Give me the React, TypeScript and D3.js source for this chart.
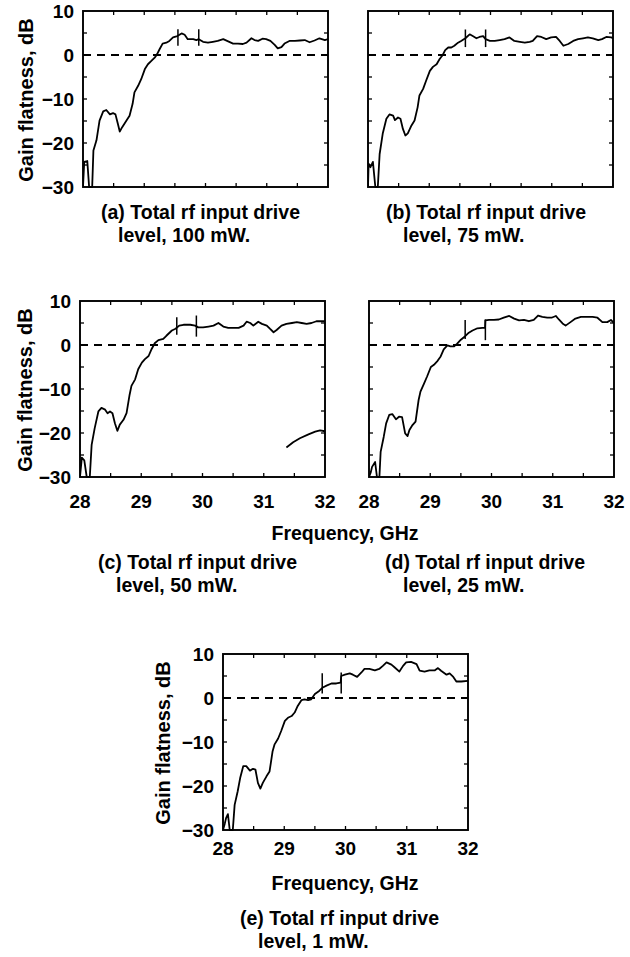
import React from 'react';
import * as d3 from 'd3';

// ---------- data ----------
const freqTicks = [28, 29, 30, 31, 32];
const gainTicks = [10, 0, -10, -20, -30];
const freqMinor = [28.5, 29, 29.5, 30, 30.5, 31, 31.5];
const gainMinor = [5, 0, -5, -10, -15, -20, -25];

const captionLine1 = [
  '(a) Total rf input drive',
  '(b) Total rf input drive',
  '(c) Total rf input drive',
  '(d) Total rf input drive',
  '(e) Total rf input drive',
];
const captionLine2 = ['level, 100 mW.', 'level, 75 mW.', 'level, 50 mW.', 'level, 25 mW.', 'level, 1 mW.'];

type P = [number, number];

const traceA: P[] = [[28.00,-30],[28.02,-24.3],[28.07,-24.1],[28.10,-30],[28.15,-30],[28.17,-21.7],[28.22,-19.4],[28.27,-14.9],[28.33,-12.8],[28.38,-12.5],[28.44,-13.5],[28.49,-13.2],[28.53,-13.5],[28.57,-15.7],[28.60,-17.4],[28.64,-16.4],[28.71,-14.9],[28.76,-13.8],[28.81,-11.1],[28.84,-8.5],[28.90,-7.0],[28.95,-5.5],[29.01,-3.2],[29.06,-2.1],[29.12,-1.3],[29.17,-0.6],[29.21,0.2],[29.25,1.3],[29.30,2.6],[29.36,2.8],[29.41,3.2],[29.47,4.0],[29.54,4.3],[29.61,4.9],[29.66,4.6],[29.71,3.6],[29.80,3.6],[29.85,3.4],[29.89,3.6],[29.96,3.0],[30.04,2.8],[30.12,3.0],[30.20,3.2],[30.29,3.6],[30.37,3.1],[30.45,2.6],[30.53,2.6],[30.61,2.5],[30.67,2.8],[30.75,3.8],[30.80,3.4],[30.86,3.2],[30.93,3.7],[30.99,3.6],[31.06,3.2],[31.13,2.3],[31.18,1.5],[31.24,1.8],[31.29,2.6],[31.37,3.2],[31.46,3.2],[31.54,3.3],[31.62,3.4],[31.70,2.9],[31.78,3.3],[31.86,3.8],[31.95,3.4],[32.00,3.6]];

const traceB: P[] = [[28.00,-30],[28.01,-24.7],[28.04,-25.5],[28.08,-24.3],[28.12,-30],[28.16,-30],[28.19,-22.5],[28.24,-17.9],[28.30,-14.5],[28.35,-13.5],[28.41,-13.8],[28.44,-14.8],[28.49,-14.2],[28.53,-14.5],[28.57,-16.8],[28.61,-18.3],[28.65,-17.8],[28.71,-16.0],[28.76,-14.9],[28.81,-11.9],[28.84,-9.2],[28.90,-7.7],[28.95,-5.8],[29.01,-3.6],[29.06,-2.7],[29.12,-2.1],[29.17,-0.9],[29.22,0.0],[29.26,1.1],[29.31,1.7],[29.36,1.7],[29.41,2.1],[29.47,2.8],[29.52,3.2],[29.59,3.8],[29.66,4.7],[29.71,4.3],[29.77,3.8],[29.82,4.1],[29.88,4.3],[29.92,3.6],[29.99,3.2],[30.07,3.2],[30.15,3.4],[30.23,3.6],[30.31,4.0],[30.39,3.2],[30.48,3.0],[30.56,2.8],[30.64,3.0],[30.69,3.2],[30.76,4.3],[30.83,4.1],[30.91,3.6],[30.99,4.0],[31.07,4.1],[31.13,3.2],[31.19,2.1],[31.27,2.5],[31.35,3.2],[31.43,3.6],[31.51,3.8],[31.59,4.0],[31.67,3.8],[31.76,3.4],[31.82,3.6],[31.89,4.1],[31.97,4.0],[32.00,3.8]];

const traceC: P[] = [[28.00,-30],[28.03,-25.6],[28.07,-26.2],[28.11,-30],[28.16,-30],[28.19,-22.7],[28.24,-18.9],[28.30,-15.1],[28.35,-14.3],[28.41,-14.7],[28.45,-15.5],[28.49,-15.1],[28.53,-15.5],[28.57,-17.8],[28.61,-19.5],[28.65,-18.1],[28.71,-17.0],[28.76,-15.5],[28.81,-11.3],[28.84,-9.3],[28.90,-7.8],[28.95,-5.5],[29.01,-4.0],[29.06,-3.2],[29.12,-2.5],[29.17,-0.9],[29.22,0.4],[29.28,1.1],[29.36,1.4],[29.41,2.1],[29.50,3.3],[29.56,3.7],[29.62,4.4],[29.69,4.6],[29.80,4.6],[29.88,4.4],[29.93,4.0],[30.01,4.0],[30.10,4.2],[30.18,4.4],[30.26,5.0],[30.34,4.2],[30.42,3.9],[30.50,3.9],[30.59,3.9],[30.67,4.4],[30.72,5.3],[30.78,5.0],[30.83,4.4],[30.91,5.3],[30.97,4.8],[31.05,4.4],[31.10,3.7],[31.16,2.9],[31.21,3.4],[31.29,4.4],[31.37,4.8],[31.46,5.0],[31.54,5.2],[31.62,5.0],[31.70,4.8],[31.78,5.0],[31.86,5.4],[32.00,5.4]];
const traceC2: P[] = [[31.37,-23.3],[31.48,-22.1],[31.59,-21.2],[31.73,-20.3],[31.84,-19.7],[31.92,-19.4],[32.00,-19.6]];

const traceD: P[] = [[28.00,-30],[28.03,-28.9],[28.05,-27.7],[28.10,-26.6],[28.13,-30],[28.17,-30],[28.19,-24.3],[28.24,-20.9],[28.28,-17.8],[28.33,-15.9],[28.38,-15.7],[28.44,-16.9],[28.49,-16.3],[28.54,-16.4],[28.59,-20.1],[28.63,-20.7],[28.66,-19.3],[28.71,-18.2],[28.76,-17.4],[28.81,-12.5],[28.84,-10.6],[28.90,-8.7],[28.95,-7.1],[29.01,-5.0],[29.06,-4.5],[29.12,-3.6],[29.17,-2.6],[29.22,-1.0],[29.28,-0.1],[29.33,-0.3],[29.39,-0.3],[29.44,0.3],[29.50,1.2],[29.57,2.0],[29.63,2.8],[29.69,3.3],[29.77,3.8],[29.85,3.9],[29.895,3.9],[29.90,5.6],[29.96,5.7],[30.04,5.7],[30.12,5.8],[30.20,6.2],[30.29,6.6],[30.37,6.0],[30.45,5.6],[30.53,5.7],[30.61,5.4],[30.69,5.7],[30.76,6.7],[30.83,6.4],[30.91,6.2],[30.98,6.2],[31.05,6.6],[31.10,5.8],[31.16,4.9],[31.21,4.4],[31.29,5.2],[31.37,6.0],[31.46,6.4],[31.54,6.4],[31.65,6.4],[31.73,6.2],[31.81,5.2],[31.89,5.2],[31.95,5.7],[32.00,5.0]];

const traceE: P[] = [[28.00,-30],[28.03,-28.5],[28.05,-27.3],[28.08,-26.4],[28.11,-30],[28.16,-30],[28.19,-24.3],[28.24,-21.2],[28.28,-18.2],[28.33,-15.5],[28.38,-15.5],[28.44,-16.5],[28.49,-16.1],[28.53,-16.3],[28.57,-19.3],[28.61,-20.6],[28.65,-19.3],[28.71,-17.8],[28.76,-16.7],[28.81,-12.1],[28.84,-10.6],[28.90,-9.2],[28.95,-7.5],[29.01,-5.2],[29.06,-4.5],[29.12,-4.1],[29.17,-3.3],[29.22,-1.8],[29.28,-0.5],[29.33,-0.3],[29.39,-0.5],[29.44,-0.3],[29.50,0.9],[29.57,1.6],[29.63,2.4],[29.69,2.8],[29.77,3.3],[29.85,3.3],[29.92,3.5],[29.93,5.0],[29.99,5.3],[30.07,5.6],[30.12,5.3],[30.19,4.8],[30.26,5.8],[30.31,6.6],[30.39,6.6],[30.48,6.3],[30.55,6.6],[30.61,7.3],[30.67,8.1],[30.75,7.6],[30.80,7.0],[30.88,6.0],[30.94,7.3],[30.99,8.1],[31.07,8.2],[31.16,7.7],[31.21,6.2],[31.29,6.0],[31.37,6.3],[31.46,6.3],[31.51,6.8],[31.56,6.2],[31.65,5.3],[31.70,5.6],[31.76,4.8],[31.81,3.75],[31.89,3.75],[32.00,3.9]];

// marker cursors: [frequency, top dB, bottom dB]
const markersA = [[29.55, 5.85, 2.1], [29.89, 5.85, 2.1]];
const markersB = [[29.59, 5.8, 1.8], [29.92, 5.8, 1.8]];
const markersC = [[29.58, 6.3, 2.35], [29.90, 6.7, 1.9]];
const markersD = [[29.57, 5.66, 1.39], [29.90, 5.8, 1.1]];
const markersE = [[29.62, 5.6, 1.0], [29.93, 5.8, 1.0]];

// ---------- layout ----------
const W = 245;
const H = 176;
const FONT = "'Liberation Sans', Arial, Helvetica, sans-serif";
const CAP = 19.5;
const TICK = 19;

const panels = [
  { x: 83, y: 11, traces: [traceA], markers: markersA, yLabels: true, xLabels: false, cx: 101, cy: 212, cx2: 118, ylx: 26 },
  { x: 368, y: 11, traces: [traceB], markers: markersB, yLabels: false, xLabels: false, cx: 386, cy: 212, cx2: 403 },
  { x: 80, y: 301, traces: [traceC, traceC2], markers: markersC, yLabels: true, xLabels: true, cx: 98, cy: 562, cx2: 116, ylx: 25 },
  { x: 369, y: 301, traces: [traceD], markers: markersD, yLabels: false, xLabels: true, cx: 385, cy: 562, cx2: 403 },
  { x: 223, y: 654, traces: [traceE], markers: markersE, yLabels: true, xLabels: true, cx: 240, cy: 918, cx2: 258, ylx: 163 },
];

function Panel({ p }: { p: any }) {
  const xs = d3.scaleLinear().domain([28, 32]).range([p.x, p.x + W]);
  const ys = d3.scaleLinear().domain([-30, 10]).range([p.y + H, p.y]);
  const line = d3.line<P>().x((d) => xs(d[0])).y((d) => ys(d[1]));
  const tl = 4;
  const txt = { fontFamily: FONT, fontWeight: 700, fill: '#000' } as any;
  const clipId = 'clip' + p.x + '_' + p.y;
  const xLabelOffset = p.y > 600 ? 18 : 24;
  return (
    <g>
      <defs>
        <clipPath id={clipId}>
          <rect x={p.x} y={p.y - 1} width={W} height={H + 2} />
        </clipPath>
      </defs>
      <line x1={xs(28)} x2={xs(32)} y1={ys(0)} y2={ys(0)} stroke="#000" strokeWidth={1.8} strokeDasharray="8,6" />
      <g clipPath={`url(#${clipId})`}>
        {p.traces.map((t: P[], i: number) => (
          <path key={i} d={line(t) || ''} fill="none" stroke="#000" strokeWidth={1.8} strokeLinejoin="round" />
        ))}
      </g>
      {p.markers.map((m: number[], i: number) => (
        <line key={i} x1={xs(m[0])} x2={xs(m[0])} y1={ys(m[1])} y2={ys(m[2])} stroke="#000" strokeWidth={1.5} />
      ))}
      {freqMinor.map((f) => (
        <g key={'xf' + f}>
          <line x1={xs(f)} x2={xs(f)} y1={ys(-30)} y2={ys(-30) - tl} stroke="#000" strokeWidth={1.3} />
          <line x1={xs(f)} x2={xs(f)} y1={ys(10)} y2={ys(10) + tl} stroke="#000" strokeWidth={1.3} />
        </g>
      ))}
      {gainMinor.map((g) => (
        <g key={'yg' + g}>
          <line x1={xs(28)} x2={xs(28) + tl} y1={ys(g)} y2={ys(g)} stroke="#000" strokeWidth={1.3} />
          <line x1={xs(32)} x2={xs(32) - tl} y1={ys(g)} y2={ys(g)} stroke="#000" strokeWidth={1.3} />
        </g>
      ))}
      <rect x={p.x} y={p.y} width={W} height={H} fill="none" stroke="#000" strokeWidth={1.9} />
      {p.yLabels &&
        gainTicks.map((g) => (
          <text key={'yl' + g} x={xs(28) - 9} y={ys(g)} textAnchor="end" dominantBaseline="central" fontSize={TICK} {...txt}>
            {g < 0 ? '\u2212' + Math.abs(g) : String(g)}
          </text>
        ))}
      {p.yLabels && (
        <text
          transform={`translate(${p.ylx},${p.y + H / 2 + 1}) rotate(-90)`}
          textAnchor="middle"
          dominantBaseline="central"
          fontSize={20}
          {...txt}
        >
          Gain flatness, dB
        </text>
      )}
      {p.xLabels &&
        freqTicks.map((f) => (
          <text key={'xl' + f} x={xs(f)} y={ys(-30) + xLabelOffset} textAnchor="middle" dominantBaseline="central" fontSize={TICK} {...txt}>
            {f}
          </text>
        ))}
    </g>
  );
}

export default function App() {
  return (
    <svg width={630} height={957} style={{ display: 'block', position: 'absolute', left: 0, top: 0, background: '#fff' }}>
      <rect x={0} y={0} width={630} height={957} fill="#fff" />
      {panels.map((p, i) => (
        <g key={i}>
          <Panel p={p} />
          <text x={p.cx} y={p.cy} dominantBaseline="central" fontSize={CAP} fontFamily={FONT} fontWeight={700}>
            {captionLine1[i]}
          </text>
          <text x={p.cx2} y={p.cy + 23} dominantBaseline="central" fontSize={CAP} fontFamily={FONT} fontWeight={700}>
            {captionLine2[i]}
          </text>
        </g>
      ))}
      <text x={345} y={533} textAnchor="middle" dominantBaseline="central" fontSize={CAP} fontFamily={FONT} fontWeight={700}>
        Frequency, GHz
      </text>
      <text x={345} y={883} textAnchor="middle" dominantBaseline="central" fontSize={CAP} fontFamily={FONT} fontWeight={700}>
        Frequency, GHz
      </text>
    </svg>
  );
}
